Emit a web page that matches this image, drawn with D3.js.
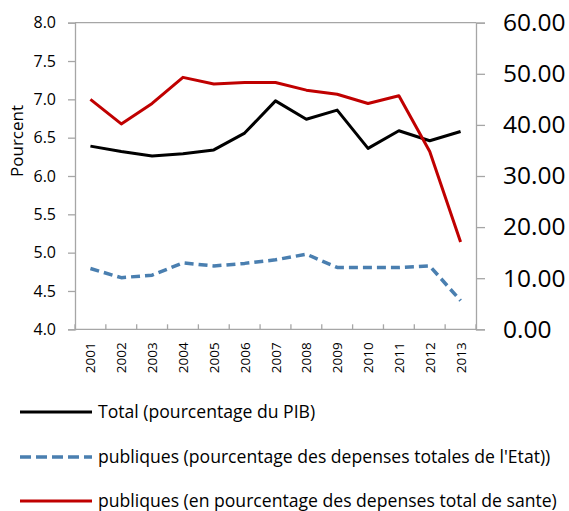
<!DOCTYPE html>
<html>
<head>
<meta charset="utf-8">
<script src="https://cdn.jsdelivr.net/npm/d3@7"></script>
<style>
  body { margin: 0; background: #fff; }
  svg { font-family: "Open Sans", "Noto Sans", sans-serif; }
</style>
</head>
<body>
<div id="chart"></div>
<script>
// Data
const years = ["2001", "2002", "2003", "2004", "2005", "2006", "2007",
               "2008", "2009", "2010", "2011", "2012", "2013"];
// left axis (percent of GDP)
const totalPib = [6.39, 6.32, 6.26, 6.29, 6.34, 6.56, 6.98, 6.74, 6.86, 6.36, 6.59, 6.46, 6.58];
// right axis
const publiquesEtat = [11.9, 10.1, 10.6, 13.0, 12.4, 12.9, 13.6, 14.7, 12.1, 12.1, 12.1, 12.4, 5.6];
const publiquesSante = [45.0, 40.2, 44.2, 49.3, 48.0, 48.3, 48.3, 46.8, 46.0, 44.2, 45.7, 34.8, 17.1];
const leftTicks = [4.0, 4.5, 5.0, 5.5, 6.0, 6.5, 7.0, 7.5, 8.0];
const rightTicks = [0, 10, 20, 30, 40, 50, 60];
const legendLabels = [
  "Total (pourcentage du PIB)",
  "publiques (pourcentage des depenses totales de l'Etat))",
  "publiques (en pourcentage des depenses total de sante)"
];

const width = 569, height = 511;
const plotLeft = 75, plotRight = 476, plotTop = 22.7, plotBottom = 329.3;
const axisColor = "#a6a6a6";

const svg = d3.select("#chart").append("svg")
    .attr("width", width)
    .attr("height", height);

const x = d3.scaleBand().domain(years).range([plotLeft, plotRight]);
const yL = d3.scaleLinear().domain([4, 8]).range([plotBottom, plotTop]);
const yR = d3.scaleLinear().domain([0, 60]).range([plotBottom, plotTop]);

// top border
svg.append("line")
    .attr("x1", plotLeft).attr("x2", plotRight)
    .attr("y1", plotTop).attr("y2", plotTop)
    .attr("stroke", axisColor).attr("stroke-width", 1.3);

// left axis
const gL = svg.append("g")
    .attr("transform", `translate(${plotLeft},0)`)
    .call(d3.axisLeft(yL).tickValues(leftTicks).tickFormat(d3.format(".1f")).tickSizeOuter(0).tickSize(7).tickPadding(12));
gL.select(".domain").attr("stroke", axisColor).attr("stroke-width", 1.3);
gL.selectAll(".tick line").attr("stroke", axisColor).attr("stroke-width", 1.3);
gL.selectAll("text").attr("font-size", 16).attr("fill", "#000").attr("font-family", "Open Sans");

// right axis
const gR = svg.append("g")
    .attr("transform", `translate(${plotRight},0)`)
    .call(d3.axisRight(yR).tickValues(rightTicks).tickFormat(d3.format(".2f")).tickSizeOuter(0).tickSize(9).tickPadding(18));
gR.select(".domain").attr("stroke", axisColor).attr("stroke-width", 1.3);
gR.selectAll(".tick line").attr("stroke", axisColor).attr("stroke-width", 1.3);
gR.selectAll("text").attr("font-size", 24.5).attr("fill", "#000").attr("font-family", "Open Sans");

// bottom axis with ticks at band boundaries pointing inward
const gB = svg.append("g").attr("transform", `translate(0,${plotBottom})`);
gB.append("line")
    .attr("x1", plotLeft).attr("x2", plotRight)
    .attr("stroke", axisColor).attr("stroke-width", 1.3);
const bounds = years.map(d => x(d)).concat([x(years[years.length - 1]) + x.bandwidth()]);
gB.selectAll(".btick").data(bounds).enter().append("line")
    .attr("x1", d => d).attr("x2", d => d)
    .attr("y1", 0).attr("y2", -5)
    .attr("stroke", axisColor).attr("stroke-width", 1.3);
gB.selectAll(".ylab").data(years).enter().append("text")
    .attr("transform", d => `translate(${x(d) + x.bandwidth() / 2 + 5},${13}) rotate(-90)`)
    .attr("text-anchor", "end")
    .attr("font-size", 13.5)
    .text(d => d);

// y axis title
svg.append("text")
    .attr("transform", "translate(23,141) rotate(-90)")
    .attr("text-anchor", "middle")
    .attr("font-size", 17)
    .text("Pourcent");

const cx = d => x(d) + x.bandwidth() / 2;

const series = [
  { values: publiquesEtat, scale: yR, color: "#4a7fb0", width: 3.5, dash: "9,5" },
  { values: totalPib, scale: yL, color: "#000000", width: 3, dash: null },
  { values: publiquesSante, scale: yR, color: "#c00000", width: 3, dash: null }
];

series.forEach(s => {
  const line = d3.line()
      .x((d, i) => cx(years[i]))
      .y(d => s.scale(d));
  svg.append("path")
      .datum(s.values)
      .attr("d", line)
      .attr("fill", "none")
      .attr("stroke", s.color)
      .attr("stroke-width", s.width)
      .attr("stroke-linejoin", "round")
      .attr("stroke-dasharray", s.dash);
});

// legend
const legendItems = [
  { label: legendLabels[0], color: "#000000", dash: null, width: 3 },
  { label: legendLabels[1], color: "#4a7fb0", dash: "11,5", width: 3.5 },
  { label: legendLabels[2], color: "#c00000", dash: null, width: 3 }
];
const legendY = [412, 457, 501];
legendItems.forEach((d, i) => {
  svg.append("line")
      .attr("x1", 20).attr("x2", 92)
      .attr("y1", legendY[i]).attr("y2", legendY[i])
      .attr("stroke", d.color)
      .attr("stroke-width", d.width)
      .attr("stroke-dasharray", d.dash);
  svg.append("text")
      .attr("x", 98).attr("y", legendY[i] + 6)
      .attr("font-size", 17.6)
      .text(d.label);
});
</script>
</body>
</html>
